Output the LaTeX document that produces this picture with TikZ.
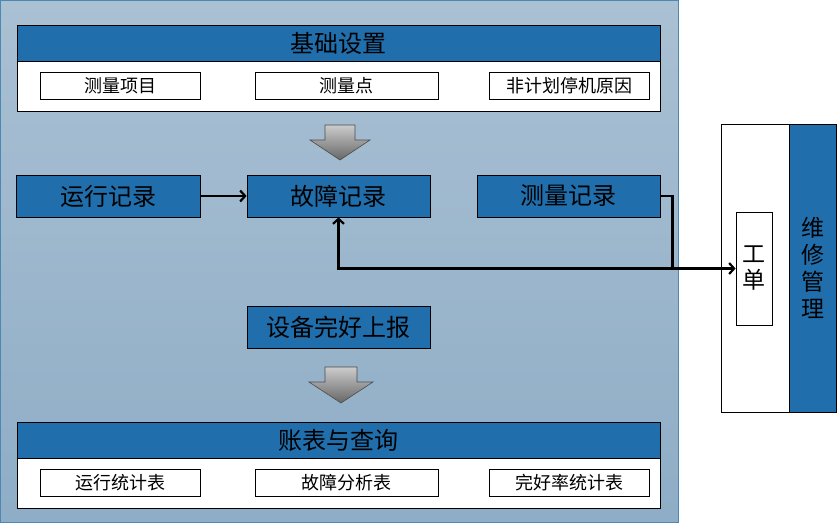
\documentclass[tikz,border=0pt]{standalone}
\usepackage{fontspec}
\setmainfont{Noto Sans CJK SC}
\usetikzlibrary{arrows.meta}
\definecolor{barblue}{HTML}{206EAC}
\definecolor{paneltop}{HTML}{AAC0D3}
\definecolor{panelbot}{HTML}{8EADC6}
\definecolor{panelline}{HTML}{4F87B3}

\begin{document}
\begin{tikzpicture}[x=1pt,y=-1pt,
    bar/.style={draw,line width=0.8pt,fill=barblue,inner sep=0pt,minimum width=643pt,minimum height=36pt,font=\fontsize{24}{24}\selectfont},
    tray/.style={draw,line width=0.8pt,fill=white,inner sep=0pt,minimum width=643pt,minimum height=50pt},
    item/.style={draw,line width=0.8pt,fill=white,inner sep=0pt,minimum height=27pt,font=\fontsize{18}{18}\selectfont},
    rec/.style={draw,line width=0.8pt,fill=barblue,inner sep=0pt,minimum width=183pt,minimum height=42pt,font=\fontsize{24}{24}\selectfont},
    down/.style={draw=black!70,line width=0.6pt,top color=black!20,bottom color=black!60},
    link/.style={line width=2.2pt,-{Straight Barb[length=5pt,width=11pt]}}
]
    \useasboundingbox (0,0) rectangle (837,523);
    \shade[top color=paneltop,bottom color=panelbot,draw=panelline,line width=1pt] (0.5,0.5) rectangle (678,522);
    \node[bar] at (338.5,43) (base) {基础设置};
    \node[tray] at (338.5,86) (basebody) {};
    \node[item,minimum width=160pt] at (120,86) (mitem) {测量项目};
    \node[item,minimum width=183pt] at (346.5,86) (mpoint) {测量点};
    \node[item,minimum width=160pt] at (569,86) (stop) {非计划停机原因};
    \shade[down] (325,125) -- (355,125) -- (355,140) -- (370,140) -- (340,160) -- (310,140) -- (325,140) -- cycle;
    \node[rec,minimum width=184pt] at (108,196) (run) {运行记录};
    \node[rec] at (338.5,196) (fault) {故障记录};
    \node[rec] at (568.5,196) (meas) {测量记录};
    \node[rec] at (338.5,327) (report) {设备完好上报};
    \shade[down] (325,367) -- (357,367) -- (357,382) -- (373,382) -- (341,403) -- (309,382) -- (325,382) -- cycle;
    \node[bar] at (338.5,440) (query) {账表与查询};
    \node[tray] at (338.5,483) (querybody) {};
    \node[item,minimum width=160pt] at (120,482.5) (runtab) {运行统计表};
    \node[item,minimum width=183pt] at (346.5,482.5) (faulttab) {故障分析表};
    \node[item,minimum width=160pt] at (569,482.5) (ratetab) {完好率统计表};
    \node[draw,line width=0.8pt,fill=white,minimum width=69pt,minimum height=288pt] at (755.5,268) (maint) {};
    \node[draw,line width=0.8pt,fill=barblue,minimum width=47pt,minimum height=288pt,inner sep=0pt,align=center,font=\fontsize{23}{27}\selectfont] at (812.5,268) (maintbar) {维\\修\\管\\理};
    \node[draw,line width=0.8pt,fill=white,minimum width=36pt,minimum height=113pt,inner sep=0pt,align=center,font=\fontsize{23}{26}\selectfont] at (754,268.5) (wo) {工\\单};
    \draw[link] (run.east) -- (fault.west);
    \draw[link] (meas.east) -- ++(12,0) coordinate (jn) |- (wo.west);
    \draw[link] (jn |- wo.west) -| (fault.south);
\end{tikzpicture}
\end{document}
